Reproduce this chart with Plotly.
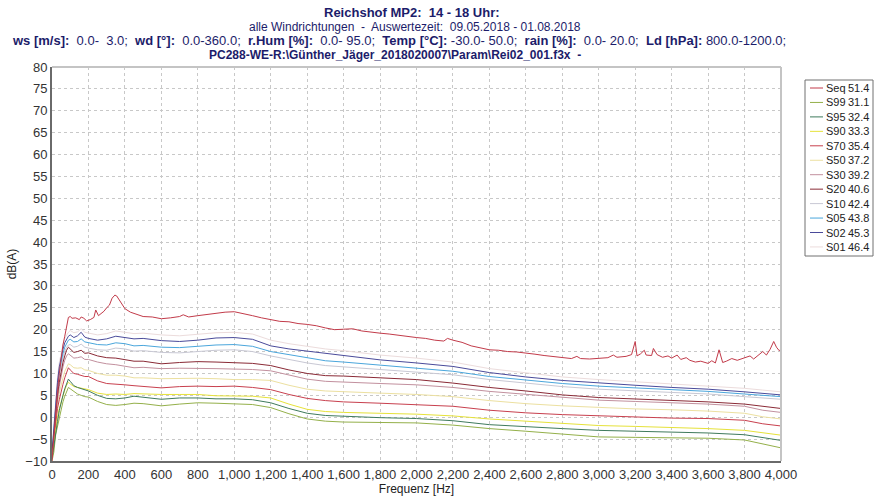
import plotly.graph_objects as go

# ---------------- data ----------------
freq = [0, 10, 20, 30, 40, 50, 60, 70, 80, 90, 100, 120, 140, 160, 180, 200, 250, 300, 350, 400,
        450, 500, 600, 700, 800, 900, 1000, 1100, 1200, 1300, 1400, 1500, 1600, 1800, 2000, 2200,
        2400, 2600, 2800, 3000, 3200, 3400, 3600, 3800, 3900, 4000]

S01 = [-7.5, -1.5, 5, 9, 12.5, 15, 16.5, 18, 18.8, 19.4, 19.8, 19.3, 19.5, 20.2, 19.4, 19.2, 18.8, 19.1, 19.7, 19.4,
       19.1, 19.2, 18.8, 18.6, 18.9, 19.3, 19.4, 19.0, 17.6, 16.8, 16.2, 15.6, 15.2, 14.2, 13.5, 12.6,
       11.1, 10.1, 9.2, 8.6, 8.1, 7.6, 7.2, 6.6, 6.2, 5.8]
S02 = [-8, -2, 4, 8, 11.5, 14, 15.5, 17, 17.8, 18.5, 18.8, 18.2, 18.6, 19.4, 18.3, 18.0, 17.6, 17.9, 18.5, 18.2,
       17.9, 18.0, 17.5, 17.3, 17.6, 18.1, 18.2, 17.8, 16.3, 15.6, 15.1, 14.5, 14.1, 13.1, 12.4, 11.6,
       10.2, 9.2, 8.4, 7.8, 7.3, 6.8, 6.4, 5.8, 5.4, 5.1]
S05 = [-8.5, -3, 3, 7, 10.5, 13, 14.5, 16, 17, 17.6, 17.8, 17.2, 17.3, 17.9, 17.2, 17.0, 16.6, 16.5, 17.0, 16.8,
       16.3, 16.4, 16.0, 15.9, 16.2, 16.5, 16.6, 16.2, 15.0, 14.3, 13.5, 12.9, 12.6, 11.9, 11.3, 10.5,
       9.3, 8.5, 7.7, 7.1, 6.7, 6.3, 5.9, 5.3, 5.0, 4.7]
S10 = [-9, -3.5, 2, 6, 9.5, 12, 13.5, 15, 16, 16.5, 16.6, 16.0, 16.2, 16.7, 16.0, 15.8, 15.4, 15.3, 15.8, 15.6,
       15.1, 15.2, 14.8, 14.7, 15.0, 15.3, 15.4, 15.0, 14.0, 13.2, 12.4, 11.8, 11.5, 10.9, 10.4, 9.7,
       8.6, 7.8, 7.0, 6.4, 6.0, 5.6, 5.3, 4.7, 4.4, 4.1]
S20 = [-9, -4, 1, 5, 8, 10.5, 12.5, 14, 15.3, 16.0, 15.6, 14.8, 15.0, 15.3, 14.6, 14.7, 14.0, 13.6, 13.5, 13.2,
       12.8, 12.8, 12.2, 12.5, 12.7, 12.6, 12.4, 12.3, 11.8, 10.8, 10.0, 9.5, 9.4, 9.0, 8.6, 7.8,
       6.8, 6.0, 5.1, 4.5, 4.2, 3.9, 3.5, 3.0, 2.5, 2.0]
S30 = [-9.5, -4.5, 0, 4, 7, 9.5, 11.5, 13, 14, 14.5, 14.2, 13.5, 13.6, 13.8, 13.2, 13.2, 12.6, 12.2, 12.0, 11.7,
       11.3, 11.4, 11.1, 11.2, 11.2, 11.1, 11.0, 10.9, 10.6, 9.6, 8.7, 8.2, 8.0, 7.7, 7.4, 6.8,
       5.9, 5.2, 4.5, 3.9, 3.6, 3.3, 3.0, 2.5, 1.6, 1.1]
S50 = [-9.5, -5, -1, 3, 5.5, 7.5, 9, 10.5, 11.5, 12.2, 12.0, 11.3, 11.2, 11.3, 10.8, 10.7, 10.0, 9.6, 9.6, 9.4,
       9.0, 9.0, 8.8, 8.9, 8.9, 8.8, 8.6, 8.6, 8.4, 7.3, 6.4, 6.0, 5.8, 5.5, 5.2, 4.7,
       3.8, 3.1, 2.6, 2.2, 1.9, 1.7, 1.4, 0.9, 0.1, -0.4]
S70 = [-9.5, -5.5, -2, 2, 4, 6, 7.5, 9, 10.3, 11.3, 10.8, 10.0, 9.8, 9.6, 9.3, 9.3, 8.3, 7.7, 7.6, 7.4,
       7.2, 7.0, 6.7, 7.0, 7.1, 7.0, 7.1, 6.8, 6.3, 5.2, 4.3, 3.8, 3.5, 3.2, 2.9, 2.5,
       1.6, 1.0, 0.6, 0.3, 0.0, -0.2, -0.3, -0.7, -1.5, -2.0]
S90 = [-9.5, -6, -3, 0, 2, 3.5, 5, 6.2, 7.3, 8.0, 7.6, 7.0, 6.8, 6.6, 6.4, 6.3, 5.5, 5.2, 5.3, 5.2,
       5.4, 5.3, 5.2, 5.2, 5.2, 4.9, 4.8, 4.8, 4.4, 3.0, 1.8, 1.3, 1.1, 0.9, 0.7, 0.3,
       -0.4, -0.9, -1.4, -1.9, -2.1, -2.3, -2.6, -3.0, -3.6, -4.1]
S95 = [-9.5, -6.5, -3, -1, 1.5, 3.5, 5, 6.5, 7.5, 8.7, 8.2, 7.2, 6.8, 6.5, 6.2, 6.0, 5.0, 4.3, 4.2, 4.4,
       4.8, 4.6, 4.1, 4.4, 4.4, 4.2, 4.2, 4.0, 3.3, 2.0, 0.9, 0.4, 0.2, -0.1, -0.3, -0.8,
       -1.7, -2.2, -2.6, -3.0, -3.2, -3.4, -3.6, -4.0, -4.7, -5.3]
S99 = [-10, -8, -4, -2, 0, 2, 3.5, 4.8, 5.8, 6.8, 6.5, 5.8, 5.3, 5.0, 4.7, 4.6, 3.6, 2.9, 2.7, 2.9,
       3.2, 3.1, 2.6, 3.0, 3.3, 3.2, 3.1, 2.9, 2.2, 0.8, -0.4, -0.9, -1.1, -1.2, -1.3, -1.8,
       -2.6, -3.2, -3.8, -4.5, -4.6, -4.7, -4.8, -5.2, -6.1, -7.0]

freq_seq = [0, 10, 20, 30, 40, 50, 60, 70, 80, 90, 100, 110, 130, 150, 160, 175, 190, 210, 230, 240,
            255, 270, 285, 300, 315, 330, 345, 355, 370, 385, 400, 430, 460, 500, 550, 600, 650, 700, 720, 750,
            800, 850, 900, 950, 1000, 1050, 1100, 1150, 1200, 1250, 1300, 1350, 1400, 1450, 1500, 1550, 1600,
            1650, 1700, 1750, 1800, 1850, 1900, 1950, 2000, 2050, 2100, 2150, 2170, 2200, 2250, 2300, 2350,
            2400, 2450, 2500, 2550, 2600, 2650, 2700, 2750, 2800, 2850, 2880, 2900, 2950, 3000, 3050, 3080,
            3100, 3150, 3180, 3200, 3210, 3230, 3250, 3260, 3290, 3300, 3320, 3350, 3380, 3400, 3430, 3450,
            3480, 3500, 3530, 3560, 3600, 3620, 3640, 3660, 3680, 3700, 3730, 3760, 3800, 3830, 3850, 3880,
            3900, 3920, 3940, 3960, 3975, 3990, 4000]
Seq = [-10, -4, 1, 6, 10, 13.5, 16.5, 18.5, 20.5, 22.8, 23.0, 22.6, 22.7, 22.3, 22.9, 22.6, 22.0, 22.3, 22.8, 24.5,
       23.2, 23.6, 24.2, 25.0, 25.6, 27.2, 27.9, 27.7, 26.8, 25.6, 24.8, 24.0, 23.6, 23.0, 22.9, 22.5, 22.7, 23.0, 23.4, 22.9,
       23.2, 23.5, 23.8, 24.0, 24.1, 23.7, 23.2, 22.7, 22.3, 21.9, 21.8, 21.4, 21.2, 20.9, 20.4, 20.0, 20.1,
       20.2, 19.7, 19.4, 19.2, 19.0, 18.7, 18.5, 18.2, 18.0, 17.6, 17.4, 18.0, 17.6, 17.1, 16.3, 15.8,
       15.4, 15.3, 15.0, 14.9, 14.7, 14.4, 14.1, 13.9, 13.7, 13.4, 13.9, 13.4, 13.3, 13.4, 13.6, 14.2,
       13.7, 13.9, 14.3, 17.3, 14.0, 14.5, 15.3, 14.2, 14.1, 15.7, 14.3, 13.7, 14.0, 13.5, 14.2, 13.2,
       13.6, 13.0, 12.6, 12.8, 12.3, 12.9, 12.4, 15.4, 12.5, 12.8, 13.4, 13.0, 13.6, 14.0, 13.3, 14.4,
       15.0, 14.2, 15.5, 17.3, 16.0, 15.2, 15.6]

names = ["Seq", "S99", "S95", "S90", "S70", "S50", "S30", "S20", "S10", "S05", "S02", "S01"]
totals = ["51.4", "31.1", "32.4", "33.3", "35.4", "37.2", "39.2", "40.6", "42.4", "43.8", "45.3", "46.4"]
colors = ["#c23b4a", "#94b04a", "#3f7a5c", "#e6e23a", "#c8404e", "#ece0a0", "#c2909e", "#8a2a36",
          "#c8c8d4", "#4aa6dc", "#4a4a9a", "#ecdcdc"]

x_ticks = [0, 200, 400, 600, 800, 1000, 1200, 1400, 1600, 1800, 2000, 2200, 2400, 2600, 2800,
           3000, 3200, 3400, 3600, 3800, 4000]
y_ticks = [-10, -5, 0, 5, 10, 15, 20, 25, 30, 35, 40, 45, 50, 55, 60, 65, 70, 75, 80]

series = {"S01": S01, "S02": S02, "S05": S05, "S10": S10, "S20": S20, "S30": S30,
          "S50": S50, "S70": S70, "S90": S90, "S95": S95, "S99": S99}

# ---------------- figure ----------------
W, H = 887, 497
L, R, T, B = 52, 781, 67, 461
BASE = '"Liberation Sans", Arial, Helvetica, sans-serif'

fig = go.Figure()
col = dict(zip(names, colors))
for nm in ["S01", "S10", "S50", "S30", "S05", "S02", "S20", "S70", "S90", "S99", "S95"]:
    fig.add_trace(go.Scatter(x=freq, y=series[nm], mode="lines", name=nm,
                             line=dict(color=col[nm], width=1), showlegend=False))
fig.add_trace(go.Scatter(x=freq_seq, y=Seq, mode="lines", name="Seq",
                         line=dict(color=col["Seq"], width=1), showlegend=False))

def px_x(p):
    return (p - L) / (R - L)

def px_y(p):
    return (B - p) / (B - T)

shapes = []
annotations = []

# top / right light frame
shapes.append(dict(type="line", xref="paper", yref="paper", x0=0, x1=1, y0=1, y1=1,
                   line=dict(color="#c4c4c4", width=2)))
shapes.append(dict(type="line", xref="paper", yref="paper", x0=1, x1=1, y0=0, y1=1,
                   line=dict(color="#c4c4c4", width=2)))

# manual legend box
lx0, lx1, ly0, ly1 = 805, 873, 80, 256
shapes.append(dict(type="rect", xref="paper", yref="paper", x0=px_x(lx0), x1=px_x(lx1),
                   y0=px_y(ly1), y1=px_y(ly0), line=dict(color="#707070", width=1),
                   fillcolor="white"))
step = 14.45
for i, (nm, tv, c) in enumerate(zip(names, totals, colors)):
    yc = 88 + i * step
    shapes.append(dict(type="line", xref="paper", yref="paper", x0=px_x(810), x1=px_x(823),
                       y0=px_y(yc), y1=px_y(yc), line=dict(color=c, width=1)))
    annotations.append(dict(xref="paper", yref="paper", x=px_x(825), y=px_y(yc), text=nm,
                            showarrow=False, xanchor="left", yanchor="middle", borderpad=0,
                            font=dict(size=11, color="#222222", family=BASE)))
    annotations.append(dict(xref="paper", yref="paper", x=px_x(870), y=px_y(yc), text=tv,
                            showarrow=False, xanchor="right", yanchor="middle", borderpad=0,
                            font=dict(size=11, color="#222222", family=BASE)))

# title lines
tcol = "#1c1c6a"
title_lines = [
    (412, 13, 13, "<b>Reichshof MP2:  14 - 18 Uhr:</b>"),
    (415, 27, 12, "alle Windrichtungen  -  Auswertezeit:  09.05.2018 - 01.08.2018"),
    (399, 41, 13, "<b>ws [m/s]:</b>  0.0-  3.0;  <b>wd [°]:</b>  0.0-360.0;  <b>r.Hum [%]:</b>  0.0- 95.0;  "
                  "<b>Temp [°C]:</b> -30.0- 50.0;  <b>rain [%]:</b>  0.0- 20.0;  <b>Ld [hPa]:</b> 800.0-1200.0;"),
    (395, 55, 12, "<b>PC288-WE-R:\\Günther_Jäger_2018020007\\Param\\Rei02_001.f3x  -</b>"),
]
for cx, cy, fs, txt in title_lines:
    annotations.append(dict(xref="paper", yref="paper", x=px_x(cx), y=px_y(cy), text=txt,
                            showarrow=False, xanchor="center", yanchor="middle",
                            font=dict(size=fs, color=tcol, family=BASE)))

fig.update_layout(
    width=W, height=H,
    margin=dict(l=L, r=W - R, t=T, b=H - B, pad=0),
    paper_bgcolor="white", plot_bgcolor="white",
    font=dict(family=BASE, size=12, color="#333333"),
    shapes=shapes, annotations=annotations, showlegend=False,
    xaxis=dict(range=[0, 4000], tickvals=x_ticks, ticktext=[f"{v:,}" for v in x_ticks],
               showgrid=True, gridcolor="#c8c8c8", griddash="dot", gridwidth=1,
               showline=True, linecolor="#6a6a6a", linewidth=2, ticks="", zeroline=False,
               title=dict(text="Frequenz [Hz]", font=dict(size=12, color="#222222", family=BASE), standoff=3),
               tickfont=dict(size=13, color="#333333", family=BASE), automargin=False),
    yaxis=dict(range=[-10, 80], tickvals=y_ticks, showgrid=True, gridcolor="#c8c8c8",
               griddash="dot", gridwidth=1, showline=True, linecolor="#6a6a6a", linewidth=2,
               ticks="", zeroline=False,
               title=dict(text="dB(A)", font=dict(size=12, color="#222222", family=BASE), standoff=6),
               tickfont=dict(size=13, color="#333333", family=BASE), automargin=False),
)

fig.write_html(
    "out.html",
    config={"displayModeBar": False},
    post_script="document.body.style.margin='0';document.body.style.padding='0';"
                "document.documentElement.style.overflow='hidden';",
)
